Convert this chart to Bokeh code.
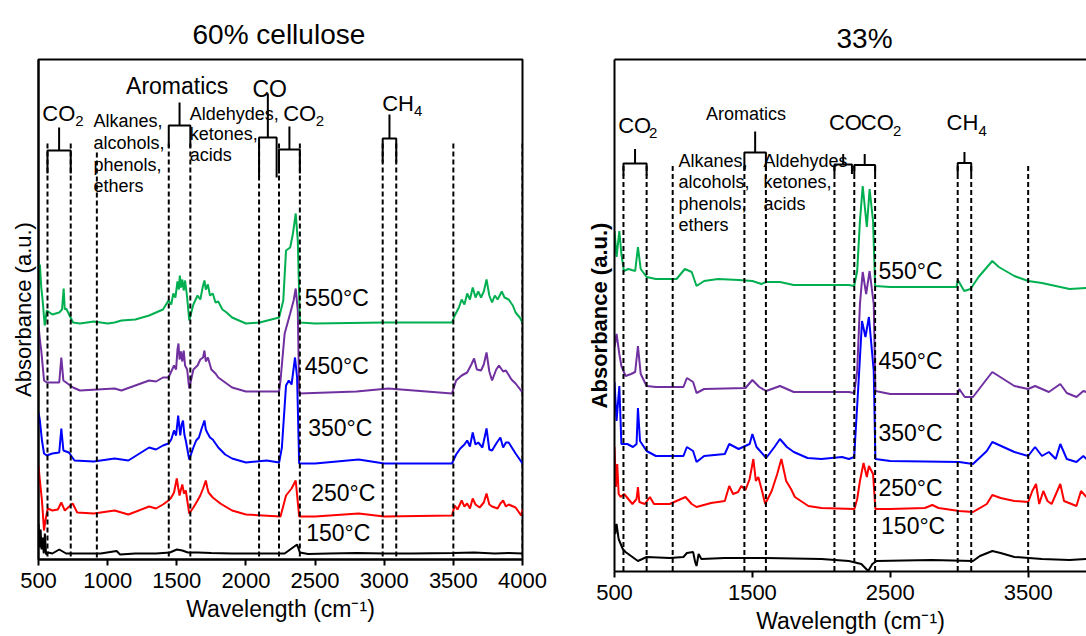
from bokeh.plotting import figure
from bokeh.layouts import row
from bokeh.models import Label, Range1d, LinearAxis, FixedTicker
from bokeh.embed import file_html
from bokeh.resources import INLINE

FONT = "Liberation Sans"

# ---------------- data: left panel (60% cellulose) ----------------
wn_L150 = [500, 508, 515, 522, 530, 538, 546, 555, 570, 600, 650, 700, 800, 950, 1065, 1090, 1200, 1350, 1450, 1500,
           1540, 1580, 1650, 1750, 1900, 2100, 2280, 2320, 2350, 2370, 2390, 2450, 2600, 2800, 3000, 3200, 3500, 3650,
           3800, 3900, 4000]
ab_L150 = [0.36, 0.12, 0.30, 0.10, 0.22, 0.06, 0.26, 0.05, 0.07, 0.06, 0.10, 0.06, 0.06, 0.06, 0.085, 0.05, 0.06, 0.06,
           0.07, 0.10, 0.09, 0.07, 0.07, 0.065, 0.06, 0.06, 0.06, 0.10, 0.13, 0.15, 0.07, 0.055, 0.06, 0.065, 0.06,
           0.06, 0.065, 0.07, 0.06, 0.065, 0.06]

wn_L250 = [500, 510, 525, 540, 550, 567, 600, 640, 665, 690, 747, 780, 900, 1050, 1150, 1300, 1350, 1400, 1440, 1460,
           1480, 1500, 1510, 1520, 1530, 1540, 1552, 1565, 1590, 1620, 1650, 1670, 1690, 1710, 1720, 1730, 1760, 1815,
           1900, 2000, 2250, 2290, 2330, 2360, 2385, 2500, 2815, 3000, 3490, 3510, 3530, 3560, 3580, 3600, 3620, 3640,
           3660, 3690, 3720, 3740, 3760, 3780, 3820, 3840, 3860, 3880, 3900, 3950, 3990, 4000]
ab_L250 = [0.94, 0.79, 0.59, 0.29, 0.39, 0.51, 0.49, 0.50, 0.57, 0.49, 0.56, 0.47, 0.46, 0.49, 0.45, 0.53, 0.51, 0.55,
           0.59, 0.62, 0.67, 0.81, 0.72, 0.64, 0.70, 0.75, 0.66, 0.69, 0.46, 0.52, 0.59, 0.64, 0.71, 0.79, 0.72, 0.67,
           0.62, 0.56, 0.49, 0.45, 0.43, 0.64, 0.71, 0.79, 0.43, 0.43, 0.46, 0.43, 0.44, 0.54, 0.50, 0.59, 0.53, 0.56,
           0.51, 0.61, 0.55, 0.52, 0.57, 0.66, 0.55, 0.53, 0.51, 0.56, 0.59, 0.53, 0.55, 0.52, 0.44, 0.50]

wn_L350 = [500, 510, 525, 540, 560, 600, 650, 665, 680, 720, 760, 900, 1050, 1150, 1300, 1350, 1400, 1440, 1460, 1480,
           1495, 1510, 1525, 1535, 1545, 1555, 1565, 1590, 1620, 1640, 1660, 1680, 1700, 1710, 1720, 1740, 1760, 1800,
           1850, 1900, 2000, 2150, 2240, 2260, 2290, 2310, 2330, 2355, 2370, 2385, 2500, 2815, 3000, 3490, 3520, 3550,
           3580, 3600, 3620, 3640, 3660, 3680, 3710, 3740, 3760, 3780, 3810, 3840, 3860, 3880, 3900, 3950, 4000]
ab_L350 = [1.47, 1.39, 1.19, 1.06, 1.04, 1.06, 1.07, 1.31, 1.09, 1.07, 0.99, 0.98, 1.01, 0.99, 1.12, 1.10, 1.14, 1.16,
           1.20, 1.29, 1.24, 1.44, 1.24, 1.35, 1.39, 1.25, 1.19, 1.00, 1.12, 1.19, 1.22, 1.31, 1.39, 1.30, 1.27, 1.22,
           1.20, 1.12, 1.05, 1.01, 0.97, 0.99, 0.97, 1.12, 1.74, 1.79, 1.75, 2.02, 1.82, 0.96, 0.96, 1.00, 0.96, 0.96,
           1.05, 1.11, 1.15, 1.19, 1.13, 1.27, 1.15, 1.17, 1.12, 1.31, 1.10, 1.09, 1.16, 1.22, 1.12, 1.17, 1.17, 1.06,
           0.96]

wn_L450 = [500, 510, 520, 540, 560, 650, 665, 680, 750, 800, 1050, 1100, 1300, 1350, 1400, 1440, 1460, 1480, 1495,
           1505, 1512, 1520, 1530, 1540, 1550, 1560, 1575, 1590, 1620, 1650, 1670, 1690, 1700, 1710, 1725, 1750, 1780,
           1800, 1850, 1900, 2000, 2240, 2250, 2280, 2320, 2345, 2360, 2375, 2385, 2800, 3030, 3490, 3520, 3560, 3600,
           3630, 3650, 3670, 3700, 3720, 3740, 3760, 3780, 3810, 3830, 3860, 3880, 3920, 3950, 4000]
ab_L450 = [2.34, 2.20, 2.09, 1.79, 1.77, 1.77, 2.02, 1.79, 1.72, 1.69, 1.71, 1.69, 1.79, 1.78, 1.82, 1.82, 1.88, 1.94,
           1.90, 2.10, 2.16, 2.00, 2.08, 1.98, 2.09, 1.94, 1.90, 1.71, 1.90, 1.94, 2.00, 2.02, 2.09, 1.98, 2.02, 1.90,
           1.86, 1.82, 1.77, 1.72, 1.68, 1.68, 1.79, 2.26, 2.46, 2.59, 2.71, 2.49, 1.66, 1.68, 1.71, 1.66, 1.79, 1.84,
           1.87, 1.95, 2.01, 1.90, 1.89, 1.95, 2.07, 1.88, 1.79, 1.90, 1.94, 1.88, 1.89, 1.80, 1.76, 1.67]

wn_L550 = [500, 505, 510, 520, 530, 545, 560, 600, 650, 670, 682, 690, 700, 750, 800, 900, 1000, 1050, 1100, 1200, 1300,
           1350, 1400, 1440, 1460, 1475, 1490, 1505, 1515, 1522, 1530, 1540, 1550, 1560, 1575, 1590, 1620, 1650, 1670,
           1690, 1700, 1710, 1725, 1740, 1760, 1780, 1800, 1830, 1860, 1900, 1950, 2000, 2100, 2240, 2270, 2290, 2320,
           2340, 2360, 2375, 2390, 2500, 3000, 3490, 3510, 3540, 3560, 3580, 3600, 3620, 3640, 3660, 3680, 3700, 3720,
           3740, 3760, 3780, 3800, 3820, 3850, 3870, 3900, 3930, 3950, 3980, 4000]
ab_L550 = [2.99, 2.80, 2.95, 2.72, 2.59, 2.34, 2.49, 2.45, 2.47, 2.50, 2.71, 2.50, 2.51, 2.37, 2.36, 2.38, 2.36, 2.37,
           2.39, 2.40, 2.44, 2.47, 2.50, 2.59, 2.55, 2.66, 2.62, 2.78, 2.70, 2.84, 2.72, 2.80, 2.69, 2.79, 2.62, 2.39,
           2.55, 2.64, 2.60, 2.74, 2.79, 2.70, 2.75, 2.64, 2.66, 2.57, 2.58, 2.50, 2.47, 2.42, 2.39, 2.36, 2.37, 2.42,
           2.59, 3.09, 3.12, 3.26, 3.46, 3.19, 2.37, 2.36, 2.37, 2.37, 2.44, 2.52, 2.60, 2.55, 2.66, 2.60, 2.72, 2.62,
           2.68, 2.62, 2.68, 2.80, 2.64, 2.57, 2.64, 2.60, 2.68, 2.62, 2.60, 2.54, 2.47, 2.42, 2.37]

# ---------------- data: right panel (33%) ----------------
wn_R150 = [500, 505, 515, 530, 545, 560, 580, 620, 670, 733, 900, 1000, 1025, 1070, 1085, 1095, 1110, 1130, 1300, 1600,
           2000, 2200, 2290, 2340, 2370, 2400, 2800, 3100, 3150, 3240, 3300, 3400, 3600, 3800, 3923]
ab_R150 = [0.475, 0.375, 0.475, 0.325, 0.275, 0.225, 0.195, 0.155, 0.105, 0.145, 0.135, 0.145, 0.185, 0.195, 0.095,
           0.055, 0.175, 0.125, 0.135, 0.135, 0.125, 0.105, 0.075, 0.005, 0.075, 0.105, 0.115, 0.105, 0.155, 0.205,
           0.185, 0.145, 0.125, 0.115, 0.125]

wn_R250 = [500, 510, 520, 530, 545, 570, 600, 630, 660, 670, 680, 720, 757, 786, 900, 1015, 1060, 1095, 1200, 1300,
           1332, 1360, 1396, 1420, 1450, 1480, 1507, 1525, 1543, 1570, 1593, 1640, 1680, 1710, 1745, 1780, 1808, 1906,
           2000, 2240, 2260, 2280, 2306, 2330, 2345, 2375, 2392, 2500, 2750, 2805, 2850, 3000, 3100, 3200, 3240, 3300,
           3400, 3500, 3530, 3557, 3580, 3610, 3640, 3670, 3733, 3760, 3850, 3883, 3923]
ab_R250 = [1.245, 0.845, 1.075, 0.775, 0.745, 0.775, 0.725, 0.675, 0.725, 0.845, 0.695, 0.675, 0.745, 0.675, 0.675,
           0.745, 0.675, 0.645, 0.685, 0.705, 0.855, 0.775, 0.795, 0.855, 0.815, 0.925, 1.125, 0.905, 0.945, 0.805,
           0.675, 0.805, 0.975, 1.125, 0.905, 0.825, 0.745, 0.655, 0.635, 0.625, 0.725, 0.905, 1.085, 0.945, 1.055,
           0.975, 0.625, 0.625, 0.635, 0.665, 0.635, 0.605, 0.595, 0.675, 0.765, 0.735, 0.705, 0.695, 0.805, 0.875,
           0.675, 0.805, 0.705, 0.675, 0.875, 0.705, 0.655, 0.805, 0.745]

wn_R350 = [500, 515, 535, 550, 593, 634, 660, 670, 685, 733, 800, 1000, 1025, 1070, 1095, 1150, 1300, 1332, 1400, 1480,
           1500, 1530, 1600, 1660, 1700, 1750, 1800, 1900, 2000, 2150, 2200, 2238, 2268, 2295, 2320, 2345, 2380, 2392,
           2500, 3000, 3100, 3200, 3240, 3400, 3500, 3550, 3600, 3650, 3700, 3733, 3780, 3850, 3900, 3923]
ab_R350 = [1.895, 1.505, 1.855, 1.275, 1.275, 1.245, 1.275, 1.635, 1.305, 1.205, 1.155, 1.155, 1.245, 1.205, 1.095,
           1.155, 1.175, 1.275, 1.225, 1.275, 1.375, 1.245, 1.135, 1.245, 1.325, 1.245, 1.195, 1.135, 1.125, 1.145,
           1.125, 1.145, 1.845, 2.505, 2.345, 2.545, 2.005, 1.125, 1.105, 1.095, 1.075, 1.205, 1.295, 1.195, 1.155,
           1.245, 1.155, 1.195, 1.125, 1.275, 1.125, 1.095, 1.155, 1.125]

wn_R450 = [500, 515, 535, 550, 580, 620, 650, 670, 690, 733, 800, 1000, 1025, 1070, 1095, 1150, 1450, 1500, 1550, 1600,
           1700, 1800, 2200, 2238, 2260, 2280, 2300, 2325, 2350, 2380, 2392, 2500, 2990, 3000, 3040, 3100, 3200, 3240,
           3400, 3500, 3550, 3600, 3650, 3733, 3780, 3850, 3900, 3923]
ab_R450 = [2.245, 2.375, 2.175, 2.055, 1.955, 1.975, 1.995, 2.255, 1.975, 1.855, 1.845, 1.845, 1.935, 1.895, 1.785,
           1.825, 1.835, 1.915, 1.845, 1.805, 1.855, 1.795, 1.795, 1.785, 2.005, 2.675, 2.995, 2.775, 3.005, 2.675,
           1.805, 1.775, 1.775, 1.825, 1.745, 1.745, 1.925, 1.995, 1.855, 1.825, 1.855, 1.825, 1.795, 1.875, 1.785,
           1.745, 1.805, 1.795]

wn_R550 = [500, 515, 535, 550, 568, 600, 650, 670, 690, 733, 800, 950, 1010, 1060, 1095, 1150, 1250, 1400, 1500, 1566,
           1600, 1700, 1800, 2200, 2238, 2260, 2280, 2300, 2330, 2350, 2375, 2390, 2500, 2980, 2990, 3036, 3082, 3140,
           3240, 3287, 3400, 3500, 3600, 3700, 3800, 3923]
ab_R550 = [3.405, 3.145, 3.405, 3.175, 3.005, 3.025, 3.005, 3.245, 3.025, 2.945, 2.925, 2.925, 3.025, 2.995, 2.855,
           2.905, 2.925, 2.915, 2.905, 2.875, 2.895, 2.895, 2.865, 2.865, 2.855, 3.005, 3.505, 3.855, 3.445, 3.825,
           3.505, 2.855, 2.845, 2.845, 2.915, 2.805, 2.825, 2.945, 3.105, 3.045, 2.955, 2.905, 2.885, 2.855, 2.825,
           2.835]

series_colors = {"150": "#000000", "250": "#FF0000", "350": "#0000FF", "450": "#7030A0", "550": "#00B050"}
temp_labels = ["150°C", "250°C", "350°C", "450°C", "550°C"]

# region boundaries (dashed lines), cm-1
region_lines = [565, 733, 922, 1442, 1598, 2095, 2239, 2390, 2989, 3087, 3500, 4000]

# brackets: (start, end) of each region
bracket_spans = [(565, 733), (1442, 1598), (2095, 2222), (2239, 2390), (2989, 3087)]


def make_fig(title, title_offset, title_standoff, xmax, ticks, frame_w, frame_h, bl, br, bt, bb, bold_y):
    p = figure(frame_width=frame_w, frame_height=frame_h, x_range=Range1d(500, xmax),
               y_range=Range1d(0, frame_h / 100.0), output_backend="svg", toolbar_location=None,
               min_border_left=bl, min_border_right=br, min_border_top=bt, min_border_bottom=bb,
               x_axis_location=None, y_axis_location=None, title=title)
    p.title.align = "left"
    p.title.offset = title_offset
    p.title.standoff = title_standoff
    p.title.text_font = FONT
    p.title.text_font_size = "28px"
    p.title.text_font_style = "normal"
    p.title.text_color = "black"
    p.grid.visible = False
    p.background_fill_color = "white"
    p.border_fill_color = "white"
    xa = LinearAxis(ticker=FixedTicker(ticks=ticks), axis_label="Wavelength (cm⁻¹)")
    xa.axis_line_width = 2
    xa.axis_line_color = "black"
    xa.major_tick_line_width = 2
    xa.major_tick_line_color = "black"
    xa.major_tick_out = 6
    xa.major_tick_in = 0
    xa.minor_tick_line_color = None
    xa.major_label_text_font = FONT
    xa.major_label_text_font_size = "22px"
    xa.major_label_text_color = "black"
    xa.major_label_standoff = 7
    xa.axis_label_text_font = FONT
    xa.axis_label_text_font_size = "23px"
    xa.axis_label_text_font_style = "normal"
    xa.axis_label_text_color = "black"
    p.add_layout(xa, "below")
    ya = LinearAxis(ticker=FixedTicker(ticks=[]), axis_label="Absorbance (a.u.)")
    ya.axis_line_width = 2
    ya.axis_line_color = "black"
    ya.major_tick_line_color = None
    ya.minor_tick_line_color = None
    ya.major_tick_out = 0
    ya.major_label_standoff = 0
    ya.axis_label_standoff = 3
    ya.axis_label_text_font = FONT
    ya.axis_label_text_font_size = "22px"
    ya.axis_label_text_color = "black"
    ya.axis_label_text_font_style = "bold" if bold_y else "normal"
    p.add_layout(ya, "left")
    return p


def add_label(p, x, y, text, size, anchor="left", baseline="middle"):
    p.add_layout(Label(x=x, y=y, text=text, text_font=FONT, text_font_size=size, text_align=anchor,
                       text_baseline=baseline, text_color="black"))


def draw_panel(p, spectra, xmax, dash_top, dash_top_922, brackets):
    for (wn, ab, key) in spectra:
        p.line(wn, ab, line_color=series_colors[key], line_width=2)
    xs = [x for x in region_lines if x <= xmax]
    tops = [dash_top_922 if x == 922 else dash_top for x in xs]
    p.segment(x0=xs, y0=tops, x1=xs, y1=[0] * len(xs), line_color="black", line_width=2, line_dash="5 3")
    bxs, bys = [], []
    for (x1, x2), (yend, yh, ysp) in zip(bracket_spans, brackets):
        xm = (x1 + x2) / 2.0
        bxs.append([x1, x1, xm, xm, xm, x2, x2])
        bys.append([yend, yh, yh, ysp, yh, yh, yend])
    p.multi_line(bxs, bys, line_color="black", line_width=2)


# ---------------- left panel ----------------
pL = make_fig("60% cellulose", 154, 20, 4000, [500, 1000, 1500, 2000, 2500, 3000, 3500, 4000],
              484, 500, 38, 30, 59, 70, False)
pL.outline_line_color = "black"
pL.outline_line_width = 2
draw_panel(pL, [(wn_L150, ab_L150, "150"), (wn_L250, ab_L250, "250"), (wn_L350, ab_L350, "350"),
                (wn_L450, ab_L450, "450"), (wn_L550, ab_L550, "550")],
           4000, 4.16, 4.07,
           [(3.86, 4.09, 4.32), (4.12, 4.34, 4.57), (3.82, 4.22, 4.66), (3.86, 4.10, 4.33), (3.97, 4.21, 4.45)])

add_label(pL, 528, 4.46, "CO", "22px")
add_label(pL, 765, 4.39, "2", "15px")
add_label(pL, 1503, 4.74, "Aromatics", "23px", anchor="center")
add_label(pL, 2172, 4.71, "CO", "23px", anchor="center")
add_label(pL, 2269, 4.46, "CO", "22px")
add_label(pL, 2505, 4.39, "2", "15px")
add_label(pL, 2985, 4.56, "CH", "22px")
add_label(pL, 3215, 4.49, "4", "15px")
for t, yy in zip(["Alkanes,", "alcohols,", "phenols,", "ethers"], [4.39, 4.17, 3.95, 3.74]):
    add_label(pL, 898, yy, t, "18px")
for t, yy in zip(["Aldehydes,", "ketones,", "acids"], [4.46, 4.26, 4.05]):
    add_label(pL, 1594, yy, t, "18px")
for t, xx, yy in zip(temp_labels, [2436, 2472, 2450, 2425, 2425], [0.27, 0.67, 1.32, 1.94, 2.62]):
    add_label(pL, xx, yy, t, "23px")

# ---------------- right panel ----------------
pR = make_fig("33%", 222, 12, 3923, [500, 1500, 2500, 3500], 472, 512, 62, 0, 56, 66, True)
pR.outline_line_color = None
top_ax = LinearAxis(ticker=FixedTicker(ticks=[]))
top_ax.axis_line_width = 2
top_ax.axis_line_color = "black"
top_ax.major_tick_line_color = None
top_ax.minor_tick_line_color = None
top_ax.major_tick_out = 0
top_ax.major_label_standoff = 0
pR.add_layout(top_ax, "above")
pR.xaxis[0].axis_label_standoff = 16
draw_panel(pR, [(wn_R150, ab_R150, "150"), (wn_R250, ab_R250, "250"), (wn_R350, ab_R350, "350"),
                (wn_R450, ab_R450, "450"), (wn_R550, ab_R550, "550")],
           3923, 4.055, 4.055,
           [(3.96, 4.08, 4.225), (4.01, 4.19, 4.40), (3.975, 4.07, 4.175), (3.975, 4.065, 4.175),
            (3.975, 4.085, 4.195)])

add_label(pR, 527, 4.46, "CO", "22px")
add_label(pR, 750, 4.39, "2", "15px")
add_label(pR, 1454, 4.575, "Aromatics", "18px", anchor="center")
add_label(pR, 2055, 4.495, "CO", "22px")
add_label(pR, 2286, 4.495, "CO", "22px")
add_label(pR, 2520, 4.405, "2", "15px")
add_label(pR, 2908, 4.495, "CH", "22px")
add_label(pR, 3140, 4.405, "4", "15px")
for t, yy in zip(["Alkanes,", "alcohols,", "phenols,", "ethers"], [4.105, 3.895, 3.675, 3.465]):
    add_label(pR, 964, yy, t, "18px")
for t, yy in zip(["Aldehydes", "ketones,", "acids"], [4.105, 3.895, 3.675]):
    add_label(pR, 1580, yy, t, "18px")
for t, xx, yy in zip(temp_labels, [2433, 2414, 2414, 2414, 2414], [0.46, 0.84, 1.39, 2.11, 3.01]):
    add_label(pR, xx, yy, t, "23px")

layout = row(pL, pR)
open("out.html", "w").write(file_html(layout, INLINE))
